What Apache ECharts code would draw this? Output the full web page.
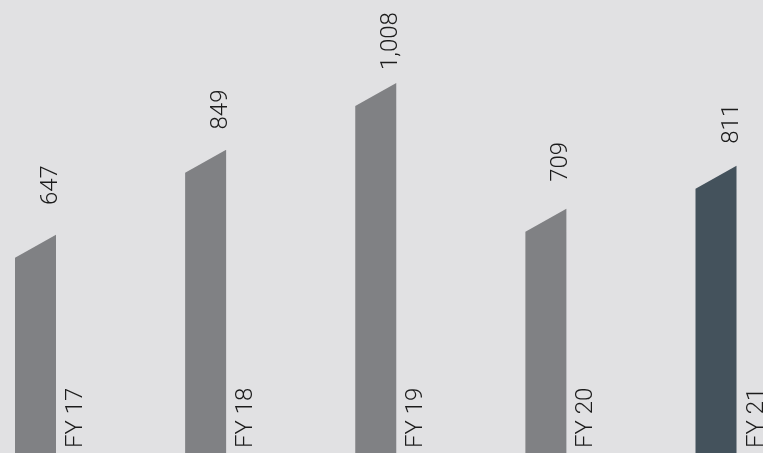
<!DOCTYPE html>
<html>
<head>
<meta charset="utf-8">
<script src="https://cdn.jsdelivr.net/npm/echarts@6/dist/echarts.min.js"></script>
<style>
html,body{margin:0;padding:0;background:#e1e1e3;}
#c{width:763px;height:453px;}
</style>
</head>
<body>
<div id="c"></div>
<script>
var categories = ['FY 17', 'FY 18', 'FY 19', 'FY 20', 'FY 21'];
var values = [647, 849, 1008, 709, 811];
var valueLabels = ['647', '849', '1,008', '709', '811'];
var barColors = ['#808184', '#808184', '#808184', '#808184', '#44525c'];

var chart = echarts.init(document.getElementById('c'));
var FONT = '"Roboto", "Liberation Sans", sans-serif';
var Y_MIN = 128.4, Y_MAX = 1205.2;
var option = {
  backgroundColor: '#e1e1e3',
  animation: false,
  grid: { left: 0, right: 0, top: 0, bottom: 0 },
  xAxis: { type: 'value', min: -0.2087, max: 4.2762, show: false },
  yAxis: { type: 'value', min: Y_MIN, max: Y_MAX, show: false },
  series: [{
    type: 'custom',
    data: values.map(function (v, i) { return [i, v]; }),
    clip: false,
    renderItem: function (params, api) {
      var i = api.value(0), v = api.value(1);
      var top = api.coord([i, v]);
      var base = api.coord([i, Y_MIN]);
      var half = 20.5, slant = 23;
      var x0 = top[0] - half, x1 = top[0] + half;
      var lblBottom = api.coord([i, v * 0.889])[1] - 60;
      return {
        type: 'group',
        children: [{
          type: 'polygon',
          shape: { points: [[x0, base[1]], [x0, top[1] + slant], [x1, top[1]], [x1, base[1]]] },
          style: { fill: barColors[i] }
        }, {
          type: 'text',
          x: x1 - 5, y: lblBottom, rotation: Math.PI / 2,
          style: { text: valueLabels[i], fill: '#1c1c1c', font: '300 24px ' + FONT, align: 'left', verticalAlign: 'middle' }
        }, {
          type: 'text',
          x: x1 + 20, y: 448, rotation: Math.PI / 2,
          style: { text: categories[i], fill: '#1c1c1c', font: '300 24px ' + FONT, align: 'left', verticalAlign: 'middle' }
        }]
      };
    }
  }]
};
chart.setOption(option);
</script>
</body>
</html>
